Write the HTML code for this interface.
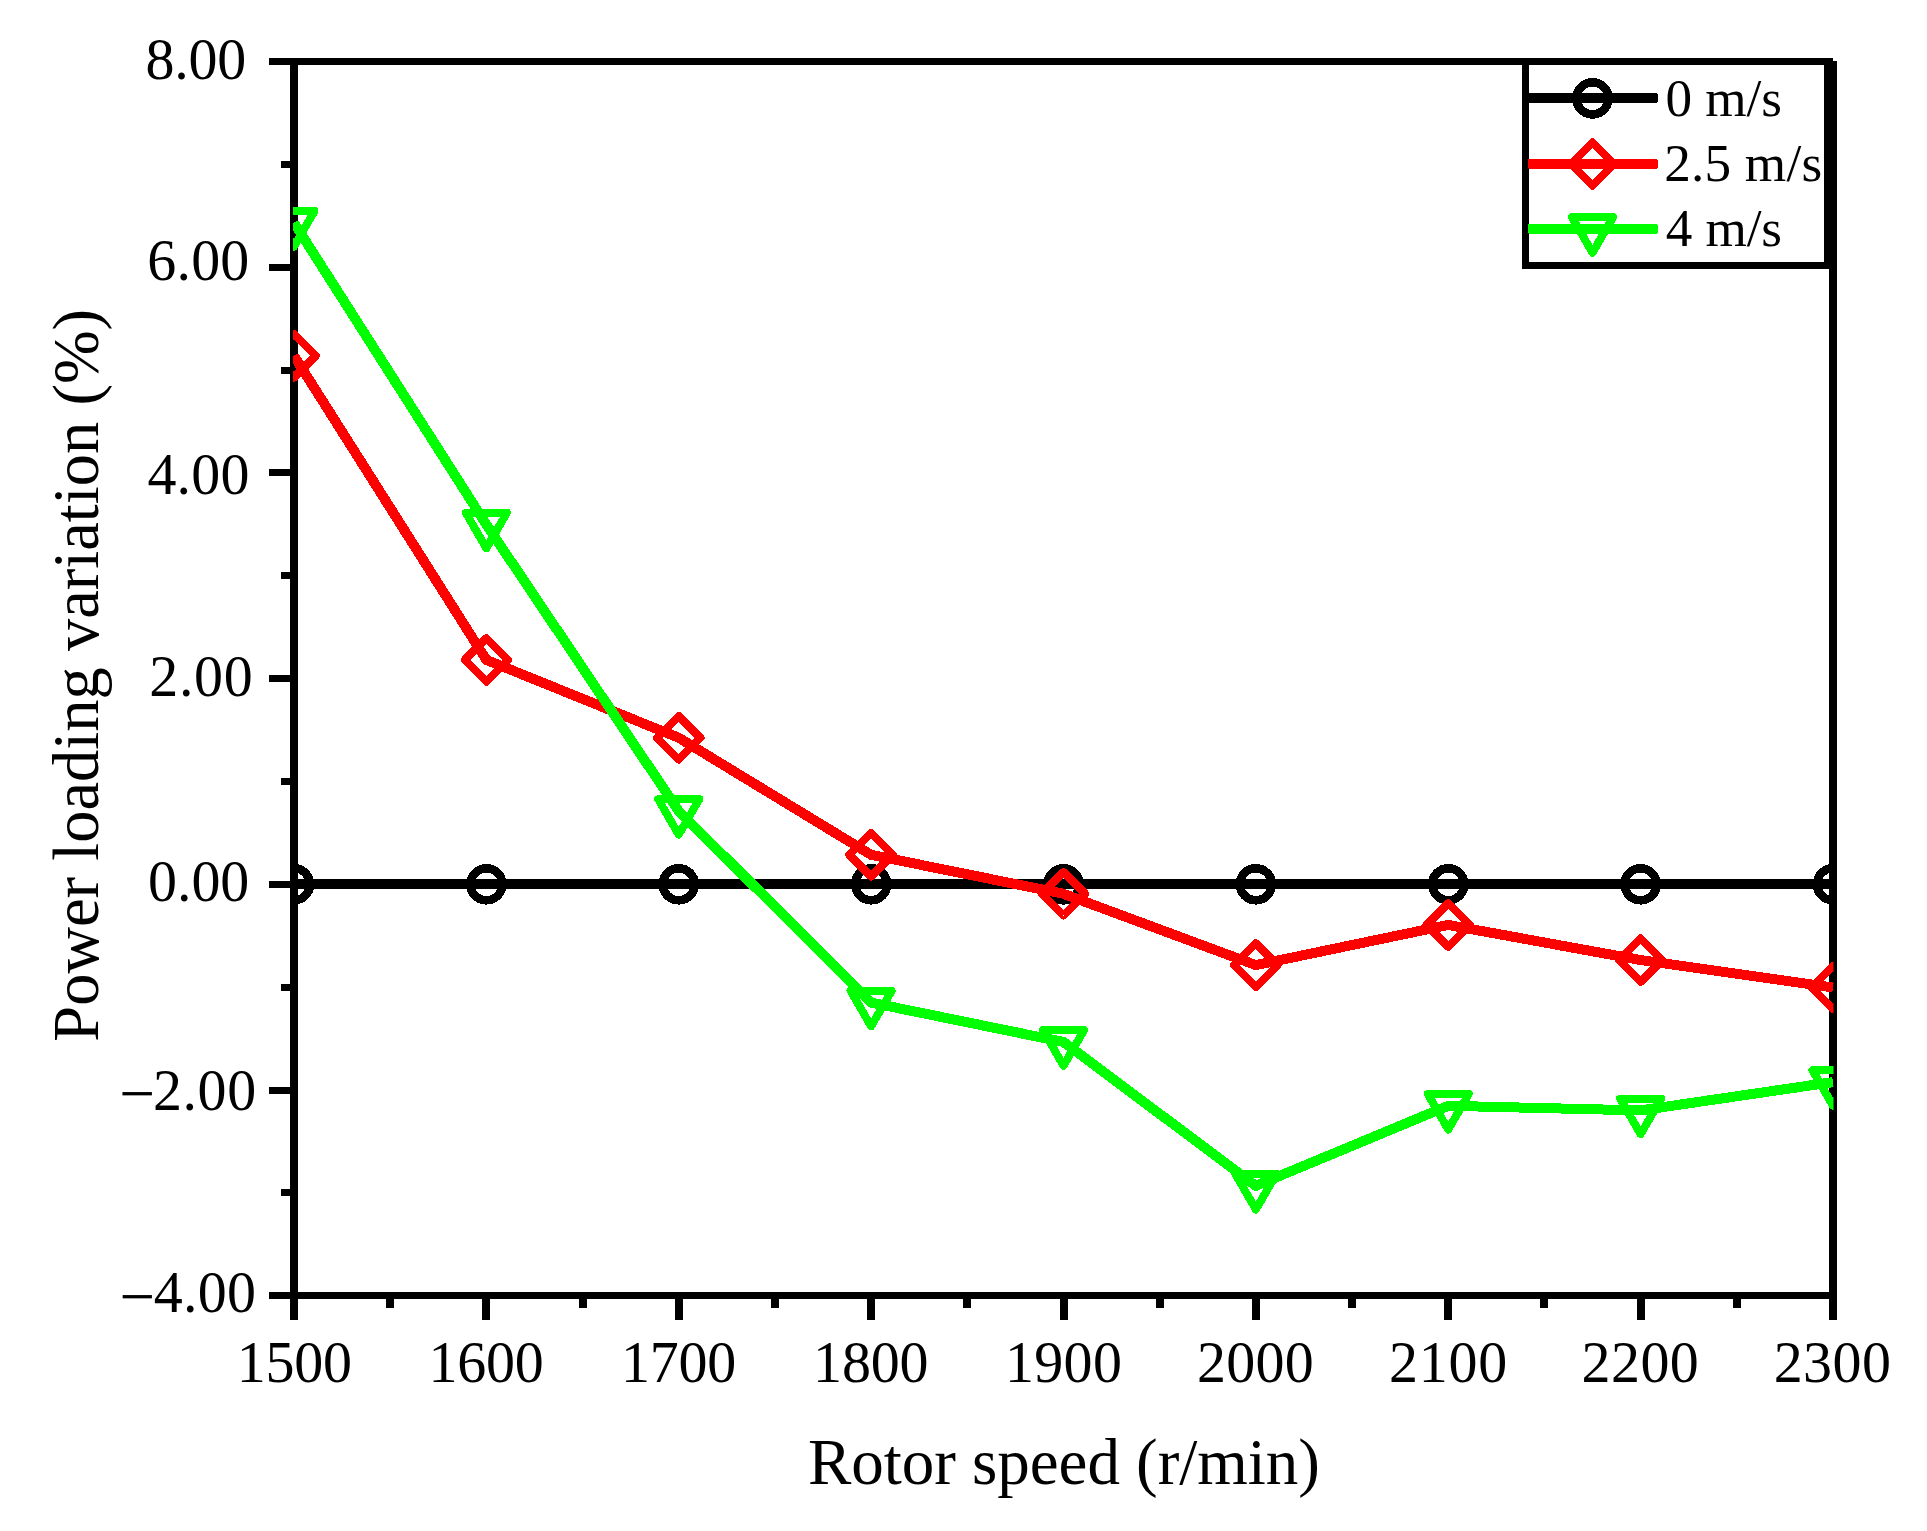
<!DOCTYPE html>
<html><head><meta charset="utf-8"><title>Power loading variation</title>
<style>
html,body{margin:0;padding:0;background:#fff;}
svg{display:block;}
text{font-family:"Liberation Serif","Times New Roman",serif;fill:#000;}
</style></head><body>
<svg width="1927" height="1531" viewBox="0 0 1927 1531" shape-rendering="crispEdges">
<rect width="1927" height="1531" fill="#fff"/>
<defs><clipPath id="cp"><rect x="293" y="61.5" width="1540.5" height="1234.5"/></clipPath></defs>

<g stroke="#000" fill="none" stroke-linecap="butt">
<line x1="294" y1="61.5" x2="1833" y2="61.5" stroke-width="7"/>
<line x1="294" y1="1295.75" x2="1833" y2="1295.75" stroke-width="7"/>
<line x1="294" y1="58" x2="294" y2="1299.25" stroke-width="8"/>
<line x1="1833" y1="61" x2="1833" y2="1299.25" stroke-width="8"/>
<line x1="269" y1="61.50" x2="294" y2="61.50" stroke-width="7"/>
<line x1="269" y1="267.20" x2="294" y2="267.20" stroke-width="7"/>
<line x1="269" y1="472.90" x2="294" y2="472.90" stroke-width="7"/>
<line x1="269" y1="678.60" x2="294" y2="678.60" stroke-width="7"/>
<line x1="269" y1="884.30" x2="294" y2="884.30" stroke-width="7"/>
<line x1="269" y1="1090.00" x2="294" y2="1090.00" stroke-width="7"/>
<line x1="269" y1="1295.70" x2="294" y2="1295.70" stroke-width="7"/>
<line x1="281" y1="164.35" x2="294" y2="164.35" stroke-width="7"/>
<line x1="281" y1="370.05" x2="294" y2="370.05" stroke-width="7"/>
<line x1="281" y1="575.75" x2="294" y2="575.75" stroke-width="7"/>
<line x1="281" y1="781.45" x2="294" y2="781.45" stroke-width="7"/>
<line x1="281" y1="987.15" x2="294" y2="987.15" stroke-width="7"/>
<line x1="281" y1="1192.85" x2="294" y2="1192.85" stroke-width="7"/>
<line x1="294.00" y1="1295.75" x2="294.00" y2="1320" stroke-width="8"/>
<line x1="486.38" y1="1295.75" x2="486.38" y2="1320" stroke-width="8"/>
<line x1="678.75" y1="1295.75" x2="678.75" y2="1320" stroke-width="8"/>
<line x1="871.12" y1="1295.75" x2="871.12" y2="1320" stroke-width="8"/>
<line x1="1063.50" y1="1295.75" x2="1063.50" y2="1320" stroke-width="8"/>
<line x1="1255.88" y1="1295.75" x2="1255.88" y2="1320" stroke-width="8"/>
<line x1="1448.25" y1="1295.75" x2="1448.25" y2="1320" stroke-width="8"/>
<line x1="1640.62" y1="1295.75" x2="1640.62" y2="1320" stroke-width="8"/>
<line x1="1833.00" y1="1295.75" x2="1833.00" y2="1320" stroke-width="8"/>
<line x1="390.19" y1="1295.75" x2="390.19" y2="1308" stroke-width="8"/>
<line x1="582.56" y1="1295.75" x2="582.56" y2="1308" stroke-width="8"/>
<line x1="774.94" y1="1295.75" x2="774.94" y2="1308" stroke-width="8"/>
<line x1="967.31" y1="1295.75" x2="967.31" y2="1308" stroke-width="8"/>
<line x1="1159.69" y1="1295.75" x2="1159.69" y2="1308" stroke-width="8"/>
<line x1="1352.06" y1="1295.75" x2="1352.06" y2="1308" stroke-width="8"/>
<line x1="1544.44" y1="1295.75" x2="1544.44" y2="1308" stroke-width="8"/>
<line x1="1736.81" y1="1295.75" x2="1736.81" y2="1308" stroke-width="8"/>
</g>
<g clip-path="url(#cp)">
<polyline points="294.00,884.00 486.38,884.00 678.75,884.00 871.12,884.00 1063.50,884.00 1255.88,884.00 1448.25,884.00 1640.62,884.00 1833.00,884.00" fill="none" stroke="#000" stroke-width="10" stroke-linejoin="round" stroke-linecap="butt"/>
<circle cx="294.00" cy="884.30" r="16" fill="none" stroke="#000" stroke-width="8.6"/>
<circle cx="486.38" cy="884.30" r="16" fill="none" stroke="#000" stroke-width="8.6"/>
<circle cx="678.75" cy="884.30" r="16" fill="none" stroke="#000" stroke-width="8.6"/>
<circle cx="871.12" cy="884.30" r="16" fill="none" stroke="#000" stroke-width="8.6"/>
<circle cx="1063.50" cy="884.30" r="16" fill="none" stroke="#000" stroke-width="8.6"/>
<circle cx="1255.88" cy="884.30" r="16" fill="none" stroke="#000" stroke-width="8.6"/>
<circle cx="1448.25" cy="884.30" r="16" fill="none" stroke="#000" stroke-width="8.6"/>
<circle cx="1640.62" cy="884.30" r="16" fill="none" stroke="#000" stroke-width="8.6"/>
<circle cx="1833.00" cy="884.30" r="16" fill="none" stroke="#000" stroke-width="8.6"/>
<polyline points="294.00,355.80 486.38,659.90 678.75,737.80 871.12,854.80 1063.50,893.80 1255.88,965.10 1448.25,924.95 1640.62,960.05 1833.00,987.50" fill="none" stroke="#ff0000" stroke-width="10" stroke-linejoin="round" stroke-linecap="butt"/>
<path d="M294.00,334.10 L315.70,355.80 L294.00,377.50 L272.30,355.80 Z" fill="none" stroke="#ff0000" stroke-width="8" stroke-linejoin="round"/>
<path d="M486.38,638.20 L508.07,659.90 L486.38,681.60 L464.68,659.90 Z" fill="none" stroke="#ff0000" stroke-width="8" stroke-linejoin="round"/>
<path d="M678.75,716.10 L700.45,737.80 L678.75,759.50 L657.05,737.80 Z" fill="none" stroke="#ff0000" stroke-width="8" stroke-linejoin="round"/>
<path d="M871.12,833.10 L892.83,854.80 L871.12,876.50 L849.42,854.80 Z" fill="none" stroke="#ff0000" stroke-width="8" stroke-linejoin="round"/>
<path d="M1063.50,872.10 L1085.20,893.80 L1063.50,915.50 L1041.80,893.80 Z" fill="none" stroke="#ff0000" stroke-width="8" stroke-linejoin="round"/>
<path d="M1255.88,943.40 L1277.58,965.10 L1255.88,986.80 L1234.17,965.10 Z" fill="none" stroke="#ff0000" stroke-width="8" stroke-linejoin="round"/>
<path d="M1448.25,903.25 L1469.95,924.95 L1448.25,946.65 L1426.55,924.95 Z" fill="none" stroke="#ff0000" stroke-width="8" stroke-linejoin="round"/>
<path d="M1640.62,938.35 L1662.33,960.05 L1640.62,981.75 L1618.92,960.05 Z" fill="none" stroke="#ff0000" stroke-width="8" stroke-linejoin="round"/>
<path d="M1833.00,965.80 L1854.70,987.50 L1833.00,1009.20 L1811.30,987.50 Z" fill="none" stroke="#ff0000" stroke-width="8" stroke-linejoin="round"/>
<polyline points="294.00,222.80 486.38,524.60 678.75,811.00 871.12,1002.60 1063.50,1042.00 1255.88,1185.80 1448.25,1105.80 1640.62,1110.40 1833.00,1082.10" fill="none" stroke="#00ff00" stroke-width="10" stroke-linejoin="round" stroke-linecap="butt"/>
<path d="M273.45,210.95 L314.55,210.95 L294.00,246.50 Z" fill="none" stroke="#00ff00" stroke-width="8" stroke-linejoin="round"/>
<path d="M465.82,512.75 L506.93,512.75 L486.38,548.30 Z" fill="none" stroke="#00ff00" stroke-width="8" stroke-linejoin="round"/>
<path d="M658.20,799.15 L699.30,799.15 L678.75,834.70 Z" fill="none" stroke="#00ff00" stroke-width="8" stroke-linejoin="round"/>
<path d="M850.58,990.75 L891.67,990.75 L871.12,1026.30 Z" fill="none" stroke="#00ff00" stroke-width="8" stroke-linejoin="round"/>
<path d="M1042.95,1030.15 L1084.05,1030.15 L1063.50,1065.70 Z" fill="none" stroke="#00ff00" stroke-width="8" stroke-linejoin="round"/>
<path d="M1235.33,1173.95 L1276.42,1173.95 L1255.88,1209.50 Z" fill="none" stroke="#00ff00" stroke-width="8" stroke-linejoin="round"/>
<path d="M1427.70,1093.95 L1468.80,1093.95 L1448.25,1129.50 Z" fill="none" stroke="#00ff00" stroke-width="8" stroke-linejoin="round"/>
<path d="M1620.08,1098.55 L1661.17,1098.55 L1640.62,1134.10 Z" fill="none" stroke="#00ff00" stroke-width="8" stroke-linejoin="round"/>
<path d="M1812.45,1070.25 L1853.55,1070.25 L1833.00,1105.80 Z" fill="none" stroke="#00ff00" stroke-width="8" stroke-linejoin="round"/>
</g>
<rect x="1525.5" y="61.5" width="302" height="204" fill="#fff" stroke="#000" stroke-width="7"/>
<line x1="1833" y1="61" x2="1833" y2="300" stroke="#000" stroke-width="8"/>
<line x1="1500" y1="61.5" x2="1833" y2="61.5" stroke="#000" stroke-width="7"/>
<rect x="1527.8" y="93.0" width="130.2" height="10.2" rx="2.6" fill="#000"/>
<circle cx="1592.50" cy="98.40" r="16" fill="none" stroke="#000" stroke-width="8.6"/>
<rect x="1527.8" y="158.8" width="130.2" height="10.2" rx="2.6" fill="#ff0000"/>
<path d="M1592.50,142.20 L1614.20,163.90 L1592.50,185.60 L1570.80,163.90 Z" fill="none" stroke="#ff0000" stroke-width="8" stroke-linejoin="round"/>
<rect x="1527.8" y="223.9" width="130.2" height="10.2" rx="2.6" fill="#00ff00"/>
<path d="M1571.95,217.15 L1613.05,217.15 L1592.50,252.70 Z" fill="none" stroke="#00ff00" stroke-width="8" stroke-linejoin="round"/>
<text transform="translate(145.60,79.25) scale(1.0000,1.0350)" font-size="58.00" letter-spacing="-0.250">8.00</text>
<text transform="translate(147.30,280.35) scale(1.0000,1.0350)" font-size="58.00" letter-spacing="0.167">6.00</text>
<text transform="translate(147.40,493.50) scale(1.0000,1.0350)" font-size="58.00" letter-spacing="0.167">4.00</text>
<text transform="translate(149.25,695.80) scale(1.0000,1.0350)" font-size="58.00" letter-spacing="0.667">2.00</text>
<text transform="translate(148.05,901.15) scale(1.0000,1.0350)" font-size="58.00" letter-spacing="-0.083">0.00</text>
<text transform="translate(152.95,1109.80) scale(1.0000,1.0350)" font-size="58.00" letter-spacing="0.583">2.00</text>
<text transform="translate(153.70,1311.50) scale(1.0000,1.0350)" font-size="58.00" letter-spacing="0.250">4.00</text>
<text transform="translate(119.50,1116.10) scale(1.0926,1.1500)" font-size="58.00" letter-spacing="0.000">−</text>
<text transform="translate(119.75,1319.40) scale(1.0834,1.1500)" font-size="58.00" letter-spacing="0.000">−</text>
<text transform="translate(236.70,1381.50) scale(1.0000,1.0360)" font-size="58.00" letter-spacing="-0.250">1500</text>
<text transform="translate(428.50,1381.50) scale(1.0000,1.0360)" font-size="58.00" letter-spacing="-0.250">1600</text>
<text transform="translate(621.00,1381.50) scale(1.0000,1.0360)" font-size="58.00" letter-spacing="-0.250">1700</text>
<text transform="translate(813.10,1381.50) scale(1.0000,1.0360)" font-size="58.00" letter-spacing="-0.167">1800</text>
<text transform="translate(1004.90,1381.50) scale(1.0000,1.0360)" font-size="58.00" letter-spacing="0.333">1900</text>
<text transform="translate(1197.00,1381.50) scale(1.0000,1.0360)" font-size="58.00" letter-spacing="0.250">2000</text>
<text transform="translate(1389.00,1381.50) scale(1.0000,1.0360)" font-size="58.00" letter-spacing="0.750">2100</text>
<text transform="translate(1581.60,1381.50) scale(1.0000,1.0360)" font-size="58.00" letter-spacing="0.417">2200</text>
<text transform="translate(1773.70,1381.50) scale(1.0000,1.0360)" font-size="58.00" letter-spacing="0.417">2300</text>
<text transform="translate(808.00,1483.60) scale(1.0000,1.0000)" font-size="65.00" letter-spacing="-0.042">Rotor speed (r/min)</text>
<text transform="translate(97.88,1041.75) rotate(-90) scale(1.0000,1.0000)" font-size="64.50" letter-spacing="0.010">Power loading variation (%)</text>
<text transform="translate(1665.50,115.70) scale(1.0000,1.0000)" font-size="53.20" letter-spacing="-0.062">0 m/s</text>
<text transform="translate(1664.25,180.70) scale(1.0000,1.0000)" font-size="53.20" letter-spacing="0.208">2.5 m/s</text>
<text transform="translate(1665.75,245.50) scale(1.0000,1.0000)" font-size="53.20" letter-spacing="-0.125">4 m/s</text>
</svg></body></html>
